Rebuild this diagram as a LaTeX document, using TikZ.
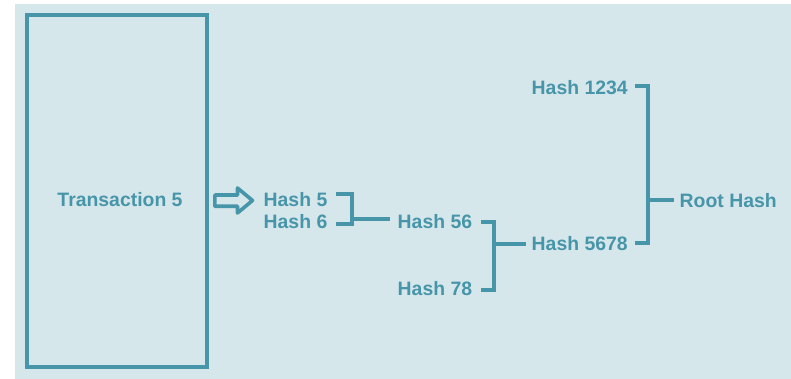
\documentclass[tikz,border=0pt]{standalone}
\usepackage{fontspec}
\setmainfont{Liberation Sans}
\definecolor{teal1}{HTML}{4795A8}
\definecolor{bgc}{HTML}{D6E7EC}
\begin{document}
\begin{tikzpicture}[x=1pt,y=-1pt,
  lbl/.style={inner sep=0pt,text=teal1,font=\fontsize{19.4}{22}\selectfont\bfseries},
  br/.style={draw=teal1,line width=4pt,line cap=butt,line join=miter}]
\useasboundingbox (0,0) rectangle (791,379);
\fill[bgc] (15,4) rectangle (791,379);
\draw[teal1,line width=4pt] (27,15) rectangle (206.5,367);
\node[lbl] (tx) at (120,200) {Transaction 5};
\draw[teal1,line width=3.6pt,line join=round]
  (214.8,195) -- (237.5,195) -- (237.5,188) -- (252.5,200.5) -- (237.5,213) -- (237.5,206.3) -- (214.8,206.3) -- cycle;
\node[lbl,anchor=west] (h5) at (263.5,199.5) {Hash 5};
\node[lbl,anchor=west] (h6) at (263.5,221.5) {Hash 6};
\node[lbl,anchor=west] (h56) at (397.5,221.5) {Hash 56};
\node[lbl,anchor=west] (h78) at (397.5,288.5) {Hash 78};
\node[lbl,anchor=west] (h5678) at (531.5,243.5) {Hash 5678};
\node[lbl,anchor=west] (h1234) at (531.5,87.5) {Hash 1234};
\node[lbl,anchor=west] (root) at (679.5,200.5) {Root Hash};
% bracket 5/6
\coordinate (a1) at (336,194);
\coordinate (a2) at (352,224);
\coordinate (am) at (352,219);
\draw[br] (a1) -| (a2) -- (336,224);
\draw[br] (am) -- ([xshift=-8pt]h56.west |- am);
% bracket 56/78
\coordinate (b1) at (481,222);
\coordinate (b2) at (494,290);
\coordinate (bm) at (494,243.5);
\draw[br] (b1) -| (b2) -- (481,290);
\draw[br] (bm) -- ([xshift=-6pt]h5678.west |- bm);
% bracket 1234/5678
\coordinate (c1) at (635,86.5);
\coordinate (c2) at (647.5,243);
\coordinate (cm) at (647.5,200);
\draw[br] (c1) -| (c2) -- (635,243);
\draw[br] (cm) -- ([xshift=-6pt]root.west |- cm);
\end{tikzpicture}
\end{document}
